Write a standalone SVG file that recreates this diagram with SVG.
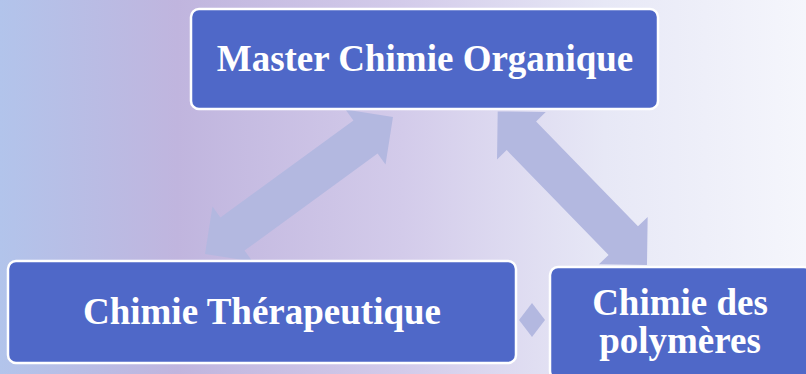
<svg xmlns="http://www.w3.org/2000/svg" width="806" height="374" viewBox="0 0 806 374">
  <defs>
    <linearGradient id="bg" x1="0" y1="0" x2="1" y2="0">
      <stop offset="0" stop-color="#b2c4eb"/>
      <stop offset="0.22" stop-color="#c0b5de"/>
      <stop offset="0.5" stop-color="#d3cbea"/>
      <stop offset="0.75" stop-color="#e7e8f6"/>
      <stop offset="1" stop-color="#f5f6fc"/>
    </linearGradient>
    <style>
      .node rect { fill: #4f68c8; stroke: #ffffff; stroke-width: 2.5; }
      .node text { font-family: "Liberation Serif", "Times New Roman", serif; font-weight: bold; font-size: 37px; fill: #ffffff; text-anchor: middle; }
      .arrow { fill: #b3b8e0; }
    </style>
  </defs>
  <rect x="0" y="0" width="806" height="374" fill="url(#bg)"/>
  <g id="connectors">
    <polygon class="arrow" transform="translate(205,254) rotate(-36.08)" points="0,0 34,-34 34,-20.5 198.6,-20.5 198.6,-34 232.6,0 198.6,34 198.6,20.5 34,20.5 34,34"/>
    <polygon class="arrow" transform="translate(497.7,111.4) rotate(45.82)" points="0,0 34,-34 34,-20.5 180.2,-20.5 180.2,-34 214.2,0 180.2,34 180.2,20.5 34,20.5 34,34"/>
    <polygon class="arrow" points="532,303 545,320 532,337 519,320"/>
  </g>
  <g id="node-master" class="node">
    <rect x="191" y="9" width="467" height="100" rx="8"/>
    <text x="425" y="71">Master Chimie Organique</text>
  </g>
  <g id="node-therapeutique" class="node">
    <rect x="8" y="261" width="508" height="102" rx="8"/>
    <text x="262" y="324">Chimie Thérapeutique</text>
  </g>
  <g id="node-polymeres" class="node">
    <rect x="550" y="267" width="262" height="112" rx="8"/>
    <text x="680" y="315">Chimie des</text>
    <text x="680" y="353">polymères</text>
  </g>
</svg>
